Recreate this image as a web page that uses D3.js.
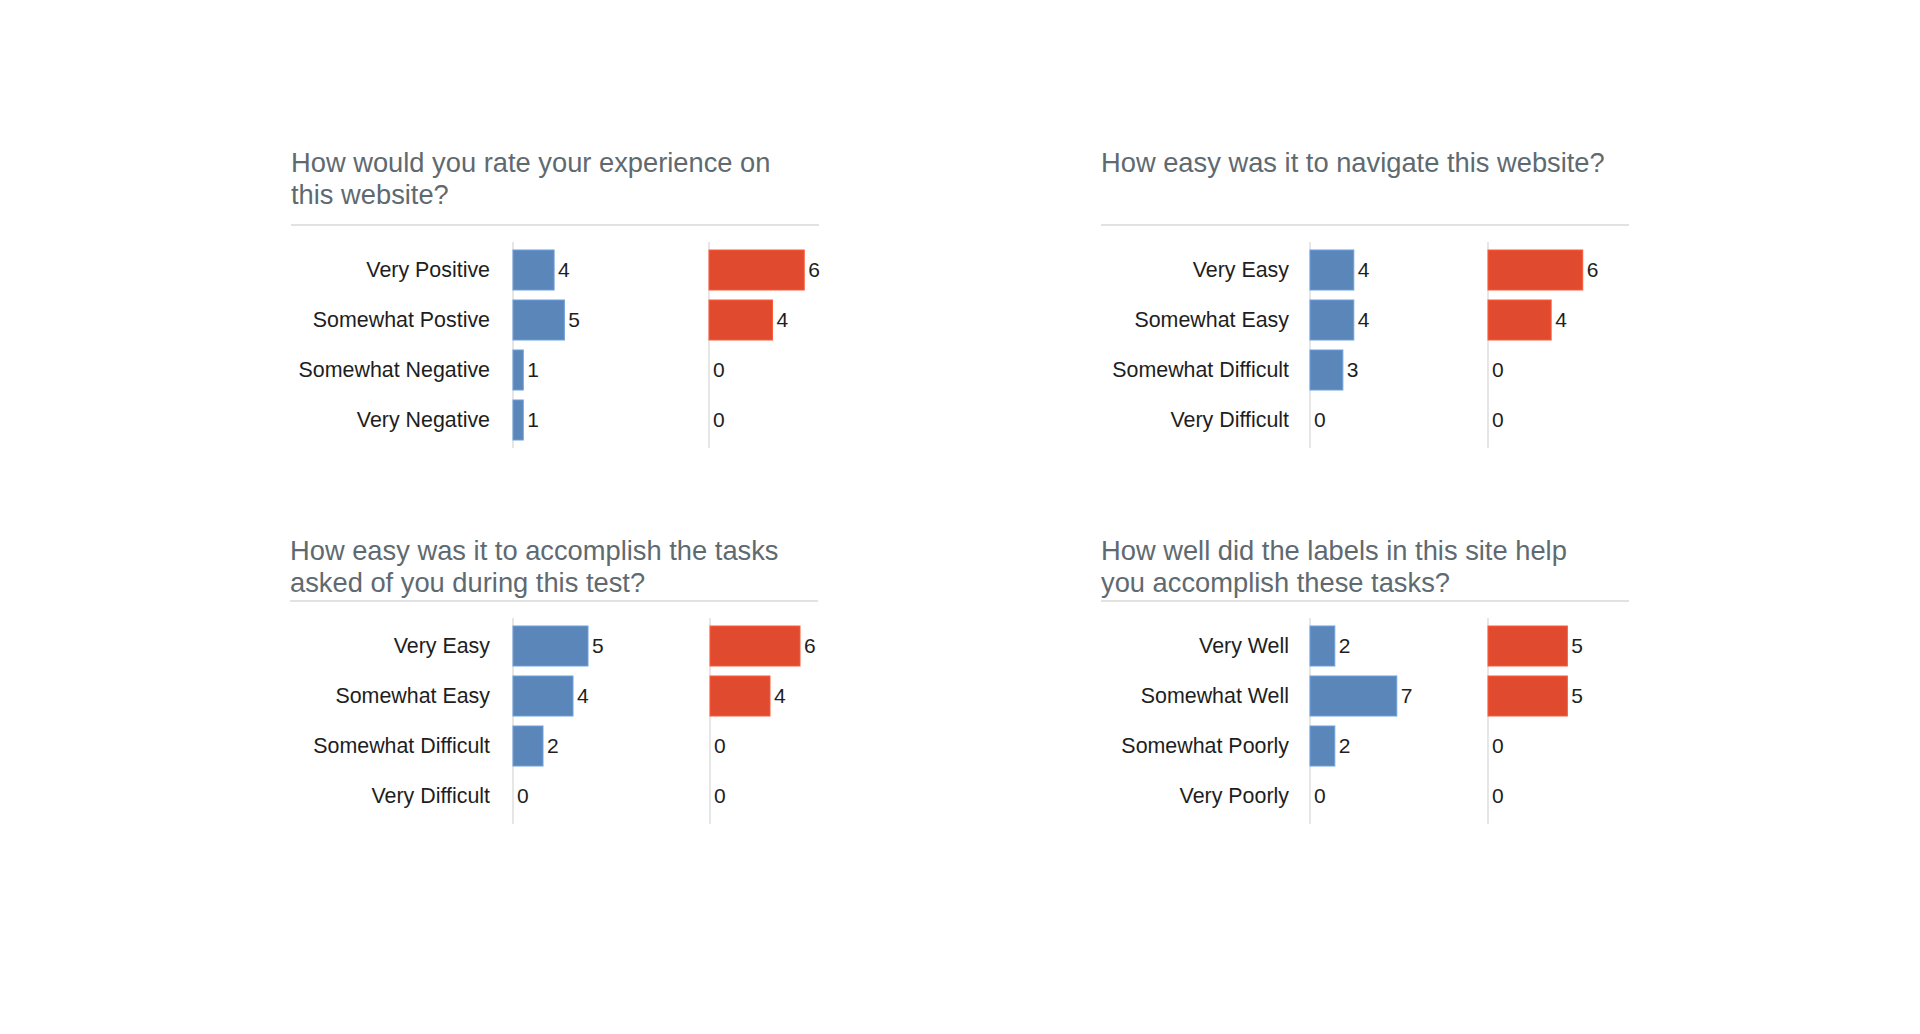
<!DOCTYPE html>
<html>
<head>
<meta charset="utf-8">
<script src="https://cdn.jsdelivr.net/npm/d3@7"></script>
<style>
  html, body { margin: 0; padding: 0; background: #fff; }
  svg { display: block; font-family: "Liberation Sans", Arial, Helvetica, sans-serif; }
</style>
</head>
<body>
<svg id="chart"></svg>
<script>
// survey questions (one per panel)
const titles = [
  ["How would you rate your experience on", "this website?"],
  ["How easy was it to navigate this website?"],
  ["How easy was it to accomplish the tasks", "asked of you during this test?"],
  ["How well did the labels in this site help", "you accomplish these tasks?"]
];
const categories = [
  ["Very Positive", "Somewhat Postive", "Somewhat Negative", "Very Negative"],
  ["Very Easy", "Somewhat Easy", "Somewhat Difficult", "Very Difficult"],
  ["Very Easy", "Somewhat Easy", "Somewhat Difficult", "Very Difficult"],
  ["Very Well", "Somewhat Well", "Somewhat Poorly", "Very Poorly"]
];
const blueValues = [[4, 5, 1, 1], [4, 4, 3, 0], [5, 4, 2, 0], [2, 7, 2, 0]];
const redValues  = [[6, 4, 0, 0], [6, 4, 0, 0], [6, 4, 0, 0], [5, 5, 0, 0]];
// x domain max of each column (each small chart is scaled on its own)
const blueMax = [14.6, 13.7, 10, 12.1];
const redMax  = [9.45, 9.5, 10, 9.45];

// layout of the four panels: x = left of rule, y = rule line
const layout = [
  {x: 291, y: 225, labelX: 199, blueX: 222, redX: 418, titleY: -53.5},
  {x: 1101, y: 225, labelX: 188, blueX: 209, redX: 387, titleY: -53.5},
  {x: 290, y: 601, labelX: 200, blueX: 223, redX: 420, titleY: -41.5},
  {x: 1101, y: 601, labelX: 188, blueX: 209, redX: 387, titleY: -41.5}
];

const width = 1920, height = 1034;
const panelWidth = 528, colWidth = 150;
const blue = "#5b86ba", red = "#e04b2f";

const svg = d3.select("#chart")
    .attr("width", width)
    .attr("height", height)
    .attr("viewBox", [0, 0, width, height]);

layout.forEach((L, p) => {
  const g = svg.append("g").attr("transform", `translate(${L.x},${L.y})`);

  // title
  g.append("text")
      .attr("fill", "#5f6a70")
      .attr("font-size", 27.3)
    .selectAll("tspan")
    .data(titles[p])
    .join("tspan")
      .attr("x", 0)
      .attr("y", (d, i) => L.titleY + i * 32)
      .text(d => d);

  // rule under the title
  g.append("line")
      .attr("x1", 0).attr("x2", panelWidth)
      .attr("y1", 0).attr("y2", 0)
      .attr("stroke", "#e2e2e2")
      .attr("stroke-width", 2);

  const rows = categories[p].map((c, i) => ({cat: c, blue: blueValues[p][i], red: redValues[p][i]}));

  const y = d3.scaleBand()
      .domain(categories[p])
      .range([17, 223])
      .paddingInner(0.2)
      .paddingOuter(0.16);

  // category labels
  g.append("g")
      .attr("font-size", 21.4)
      .attr("fill", "#1e1e1e")
      .attr("text-anchor", "end")
    .selectAll("text")
    .data(rows)
    .join("text")
      .attr("x", L.labelX)
      .attr("y", d => y(d.cat) + y.bandwidth() / 2)
      .attr("dy", "0.35em")
      .text(d => d.cat);

  const columns = [
    {key: "blue", x0: L.blueX, max: blueMax[p], color: blue},
    {key: "red", x0: L.redX, max: redMax[p], color: red}
  ];

  columns.forEach(col => {
    const x = d3.scaleLinear([0, col.max], [col.x0, col.x0 + colWidth]);
    const cg = g.append("g");

    // thin baseline of the column
    cg.append("line")
        .attr("x1", x(0)).attr("x2", x(0))
        .attr("y1", y.range()[0]).attr("y2", y.range()[1])
        .attr("stroke", "#dedede")
        .attr("stroke-width", 1.5);

    cg.append("g")
      .selectAll("rect")
      .data(rows.filter(d => d[col.key] > 0))
      .join("rect")
        .attr("x", x(0))
        .attr("y", d => y(d.cat))
        .attr("width", d => x(d[col.key]) - x(0))
        .attr("height", y.bandwidth())
        .attr("fill", col.color)
        .attr("stroke", d3.color(col.color).brighter(0.5))
        .attr("stroke-width", 1);

    cg.append("g")
        .attr("font-size", 21)
        .attr("fill", "#1e1e1e")
      .selectAll("text")
      .data(rows)
      .join("text")
        .attr("x", d => x(d[col.key]) + 4)
        .attr("y", d => y(d.cat) + y.bandwidth() / 2)
        .attr("dy", "0.35em")
        .text(d => d[col.key]);
  });
});
</script>
</body>
</html>
